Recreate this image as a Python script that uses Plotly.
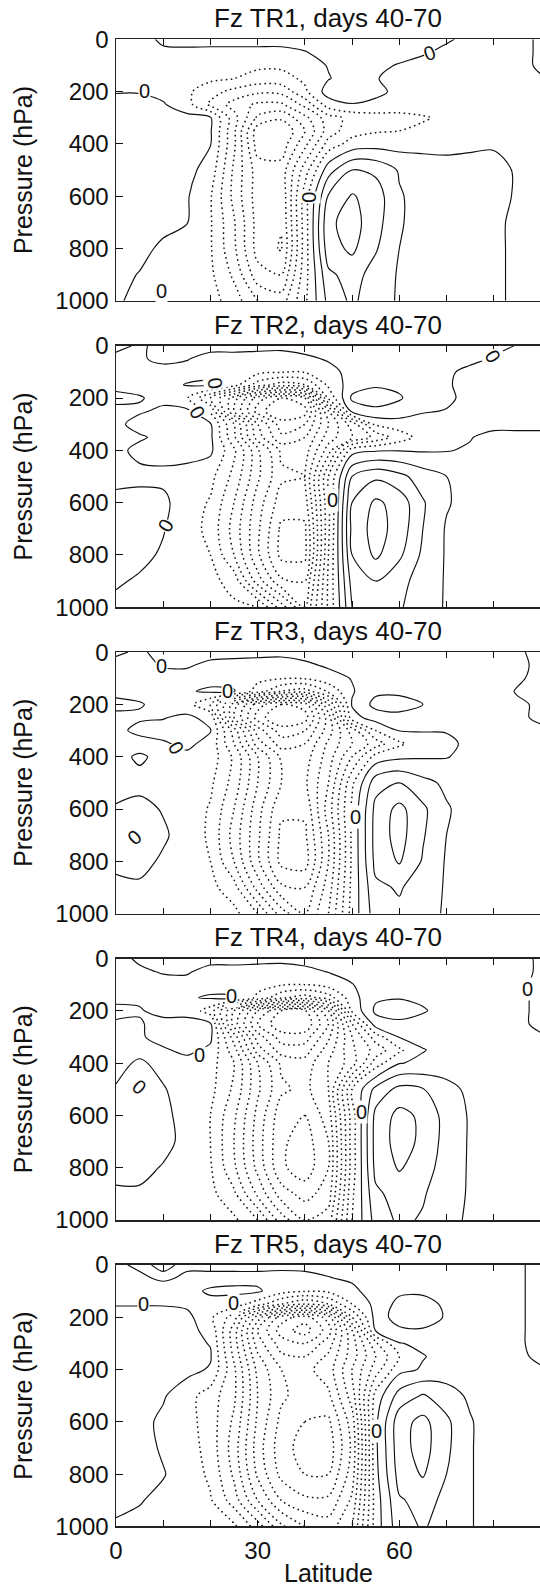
import plotly.graph_objects as go

# ---------------- data ----------------
lat = [0, 5, 10, 15, 20, 25, 30, 35, 40, 45, 50, 55, 60, 65, 70, 75, 80, 85, 90]
plev = [0, 50, 100, 150, 200, 250, 300, 350, 400, 500, 600, 700, 800, 900, 1000]

titles = ["Fz TR1, days 40-70", "Fz TR2, days 40-70", "Fz TR3, days 40-70",
          "Fz TR4, days 40-70", "Fz TR5, days 40-70"]

fz1 = [
    [-0.2, -0.2, 0.1, 0.3, 0.4, 0.4, 0.4, 0.4, 0.4, 0.5, 0.5, 0.5, 0.5, 0.4, 0.1, -0.2, -0.2, -0.2, 0.1],
    [-0.3, -0.3, -0.1, -0.2, -0.3, -0.3, -0.3, -0.3, -0.05, 0.3, 0.5, 0.5, 0.5, 0.1, -0.2, -0.3, -0.3, -0.2, 0.1],
    [-0.3, -0.3, -0.3, -0.4, -0.5, -0.6, -0.8, -0.8, -0.4, 0.05, 0.4, 0.3, -0.1, -0.3, -0.3, -0.3, -0.3, -0.2, 0.1],
    [-0.3, -0.3, -0.4, -0.5, -0.8, -1.0, -1.4, -1.4, -0.8, -0.05, 0.4, 0.05, -0.3, -0.4, -0.4, -0.3, -0.3, -0.2, -0.05],
    [-0.05, -0.05, -0.3, -0.8, -1.6, -2.3, -2.8, -2.7, -1.2, 0.45, 0.5, 0.3, -0.3, -0.4, -0.4, -0.4, -0.3, -0.2, -0.05],
    [0.3, 0.3, 0.1, -0.6, -2.2, -3.4, -4.2, -4.2, -2.7, -0.5, -0.05, -0.3, -0.5, -0.5, -0.5, -0.4, -0.3, -0.2, -0.05],
    [0.3, 0.3, 0.3, 0.3, 0.1, -2.6, -5.2, -5.8, -4.3, -2.4, -1.7, -1.4, -1.3, -1.1, -0.8, -0.5, -0.3, -0.2, -0.05],
    [0.3, 0.3, 0.3, 0.3, 0.1, -2.8, -6.6, -7.0, -5.0, -2.5, -1.4, -1.1, -1.0, -0.8, -0.6, -0.4, -0.3, -0.2, -0.1],
    [0.3, 0.3, 0.3, 0.3, 0.05, -2.8, -6.5, -6.6, -4.3, -1.6, -0.6, -0.4, -0.4, -0.3, -0.3, -0.2, -0.1, -0.1, -0.1],
    [0.3, 0.3, 0.3, 0.3, -0.4, -3.2, -5.5, -5.6, -2.5, 0.6, 2.0, 1.8, 0.9, 0.5, 0.4, 0.4, 0.3, -0.1, -0.3],
    [0.3, 0.3, 0.3, 0.1, -0.9, -3.3, -5.5, -5.8, -1.5, 2.1, 3.1, 2.5, 1.1, 0.6, 0.5, 0.4, 0.3, -0.1, -0.3],
    [0.3, 0.3, 0.3, 0.05, -0.9, -2.9, -5.4, -5.9, -1.5, 2.8, 3.4, 2.4, 1.1, 0.6, 0.5, 0.4, 0.2, -0.2, -0.3],
    [0.3, 0.3, -0.2, -0.6, -0.9, -2.8, -5.4, -6.1, -1.5, 2.6, 3.2, 2.1, 1.0, 0.6, 0.5, 0.4, 0.2, -0.2, -0.3],
    [0.3, -0.05, -0.3, -0.5, -0.8, -2.2, -4.6, -5.0, -1.4, 1.8, 2.4, 1.6, 0.9, 0.6, 0.5, 0.4, 0.2, -0.2, -0.3],
    [0.1, -0.2, -0.2, -0.3, -0.6, -1.5, -3.0, -3.5, -1.2, 1.3, 2.2, 1.4, 0.9, 0.5, 0.4, 0.3, 0.2, -0.2, -0.3],
]

fz2 = [
    [0.2, -0.1, 0.2, 0.3, 0.3, 0.3, 0.3, 0.3, 0.4, 0.5, 0.6, 0.6, 0.6, 0.6, 0.6, 0.5, 0.3, -0.05, -0.2],
    [-0.2, -0.1, 0.2, 0.05, -0.3, -0.3, -0.4, -0.5, -0.2, 0.1, 0.5, 0.6, 0.6, 0.6, 0.5, 0.3, -0.1, -0.2, -0.2],
    [-0.2, -0.2, -0.3, -0.3, -0.3, -0.5, -0.7, -0.9, -0.9, -0.3, 0.3, 0.6, 0.6, 0.5, 0.2, -0.3, -0.4, -0.4, -0.3],
    [-0.2, -0.2, -0.3, 0.05, 0.15, -0.6, -2.5, -3.5, -3.0, -0.8, 0.5, 0.9, 0.8, 0.5, 0.1, -0.3, -0.4, -0.4, -0.3],
    [0.2, 0.05, -0.2, -0.9, -3.0, -5.5, -8.5, -10.0, -9.0, -1.8, 1.2, 1.4, 1.1, 0.4, 0.2, -0.3, -0.5, -0.5, -0.4],
    [-0.2, -0.1, 0.15, 0.2, -1.2, -6.0, -9.5, -11.0, -10.5, -5.0, 0.3, 0.8, 0.6, 0.1, -0.05, -0.3, -0.5, -0.5, -0.4],
    [-0.2, 0.3, 0.3, 0.3, 0.1, -3.0, -7.0, -9.5, -9.0, -6.0, -3.5, -0.8, -0.5, -0.5, -0.4, -0.3, -0.3, -0.3, -0.3],
    [-0.2, -0.1, 0.2, 0.3, 0.2, -2.8, -6.5, -8.8, -8.0, -5.5, -4.0, -2.7, -1.5, -0.6, -0.3, -0.05, 0.3, 0.3, 0.3],
    [-0.2, 0.2, 0.3, 0.3, 0.2, -1.8, -4.8, -7.2, -7.5, -4.5, -0.4, -0.1, -0.05, -0.1, -0.05, 0.1, 0.3, 0.3, 0.3],
    [-0.2, -0.2, -0.2, -0.3, -0.7, -2.3, -4.8, -6.8, -7.0, -2.0, 2.0, 2.8, 2.3, 1.5, 1.0, 0.6, 0.5, 0.4, 0.3],
    [0.2, 0.3, 0.2, -0.5, -1.1, -3.0, -5.5, -7.5, -7.5, -2.2, 3.0, 4.2, 3.6, 2.1, 1.1, 0.6, 0.5, 0.4, 0.3],
    [0.2, 0.3, 0.05, -0.5, -1.3, -3.4, -5.8, -8.2, -8.2, -2.2, 3.3, 4.4, 3.6, 2.0, 0.9, 0.6, 0.5, 0.4, 0.3],
    [0.2, 0.2, -0.1, -0.4, -1.0, -3.0, -5.8, -8.3, -8.3, -2.0, 3.0, 4.2, 3.2, 1.8, 0.9, 0.6, 0.5, 0.4, 0.3],
    [0.1, -0.1, -0.3, -0.4, -0.7, -1.4, -4.5, -6.8, -7.0, -1.8, 2.4, 3.0, 2.3, 1.6, 0.9, 0.6, 0.5, 0.4, 0.3],
    [-0.2, -0.2, -0.3, -0.4, -0.5, -0.8, -0.9, -3.5, -6.0, -1.8, 2.0, 2.5, 2.1, 1.5, 0.9, 0.6, 0.5, 0.4, 0.3],
]

fz3 = [
    [0.1, -0.1, 0.2, 0.3, 0.3, 0.3, 0.3, 0.3, 0.4, 0.5, 0.6, 0.6, 0.6, 0.6, 0.6, 0.5, 0.4, 0.1, -0.2],
    [-0.2, -0.2, 0.05, 0.1, -0.2, -0.3, -0.4, -0.5, -0.2, 0.15, 0.5, 0.6, 0.6, 0.6, 0.6, 0.5, 0.4, 0.2, -0.2],
    [-0.2, -0.2, -0.2, -0.3, -0.3, -0.5, -0.7, -0.9, -0.9, -0.4, 0.05, 0.6, 0.6, 0.6, 0.6, 0.5, 0.4, 0.1, -0.2],
    [-0.2, -0.2, -0.2, -0.1, 0.15, 0.1, -1.5, -3.0, -3.5, -1.8, -0.1, 0.8, 0.8, 0.6, 0.6, 0.5, 0.3, -0.05, -0.2],
    [0.2, 0.05, -0.2, -0.6, -2.0, -5.5, -8.5, -10.0, -9.5, -5.0, 0.1, 1.3, 1.4, 1.0, 0.6, 0.5, 0.3, 0.1, -0.1],
    [-0.2, -0.1, -0.05, 0.2, -0.3, -6.0, -9.5, -11.0, -10.5, -6.5, -0.4, 0.5, 0.7, 0.4, 0.3, 0.3, 0.2, 0.1, -0.1],
    [-0.2, 0.2, 0.3, 0.3, 0.05, -3.5, -7.5, -9.5, -9.0, -6.5, -3.5, -1.0, 0.05, 0.05, 0.05, 0.3, 0.3, 0.2, 0.1],
    [-0.2, -0.3, -0.1, 0.2, -0.3, -3.0, -6.5, -8.5, -8.0, -5.8, -4.0, -2.5, -1.2, -0.4, -0.2, 0.2, 0.3, 0.2, 0.1],
    [-0.2, 0.1, -0.2, -0.2, -0.4, -2.2, -5.0, -7.2, -7.5, -5.5, -3.0, -0.6, -0.2, -0.1, -0.05, 0.3, 0.3, 0.2, 0.1],
    [-0.2, -0.2, -0.3, -0.4, -0.8, -2.4, -5.0, -7.0, -7.2, -5.0, -1.2, 1.6, 2.0, 1.3, 0.8, 0.6, 0.4, 0.2, 0.1],
    [0.05, 0.2, -0.05, -0.4, -1.1, -3.0, -5.6, -7.8, -7.8, -4.5, -0.8, 2.3, 3.3, 2.2, 1.1, 0.6, 0.4, 0.2, 0.1],
    [0.2, 0.3, 0.1, -0.3, -1.2, -3.4, -5.8, -8.2, -8.2, -5.0, -0.8, 2.4, 3.4, 2.1, 1.0, 0.6, 0.4, 0.2, 0.1],
    [0.1, 0.2, -0.1, -0.4, -1.0, -3.0, -5.8, -8.3, -8.5, -5.0, -0.8, 2.3, 3.1, 1.9, 0.9, 0.6, 0.4, 0.2, 0.1],
    [-0.1, -0.1, -0.3, -0.4, -0.7, -1.6, -4.4, -6.8, -7.0, -4.5, -0.7, 1.8, 2.1, 1.5, 0.9, 0.6, 0.4, 0.2, 0.1],
    [-0.2, -0.2, -0.3, -0.4, -0.5, -0.7, -2.0, -4.5, -6.0, -4.0, -0.6, 1.5, 1.8, 1.3, 0.9, 0.6, 0.4, 0.2, 0.1],
]

fz4 = [
    [-0.2, 0.1, 0.2, 0.3, 0.3, 0.3, 0.3, 0.3, 0.4, 0.5, 0.6, 0.6, 0.6, 0.6, 0.6, 0.5, 0.4, 0.2, -0.1],
    [-0.2, -0.1, 0.05, 0.1, -0.3, -0.3, -0.4, -0.5, -0.3, 0.05, 0.4, 0.6, 0.6, 0.6, 0.6, 0.5, 0.4, 0.2, -0.1],
    [-0.2, -0.2, -0.2, -0.3, -0.3, -0.5, -0.7, -0.9, -1.0, -0.6, -0.05, 0.6, 0.6, 0.6, 0.6, 0.5, 0.4, 0.2, -0.2],
    [-0.2, -0.1, -0.2, -0.1, 0.1, 0.1, -1.2, -2.8, -3.5, -2.5, -0.4, 0.85, 0.95, 0.8, 0.6, 0.5, 0.4, 0.2, -0.2],
    [0.2, 0.05, -0.2, -0.3, -1.5, -5.0, -8.0, -10.0, -10.2, -7.0, -0.8, 1.2, 1.4, 1.1, 0.6, 0.5, 0.4, 0.2, -0.2],
    [-0.1, -0.05, 0.2, 0.3, 0.1, -5.5, -9.0, -10.8, -10.8, -8.0, -3.0, 0.5, 0.8, 0.6, 0.4, 0.4, 0.3, 0.2, -0.2],
    [-0.1, -0.1, 0.3, 0.3, 0.2, -3.5, -7.5, -9.5, -9.5, -7.2, -4.0, -1.5, 0.05, 0.3, 0.4, 0.4, 0.3, 0.2, 0.1],
    [-0.2, -0.2, -0.1, 0.2, -0.2, -2.6, -6.5, -8.5, -8.5, -6.5, -4.2, -2.6, -1.2, -0.05, 0.3, 0.4, 0.3, 0.2, 0.1],
    [-0.2, 0.1, -0.2, -0.3, -0.6, -2.0, -5.0, -7.2, -7.6, -6.0, -4.5, -1.5, -0.05, 0.2, 0.5, 0.5, 0.3, 0.2, 0.1],
    [0.05, 0.2, 0.05, -0.3, -0.7, -2.2, -4.8, -6.8, -7.3, -6.0, -1.0, 1.3, 2.3, 2.05, 1.3, 0.8, 0.4, 0.2, 0.1],
    [0.2, 0.3, 0.2, -0.3, -1.0, -2.8, -5.3, -7.6, -8.0, -6.5, -1.5, 2.3, 3.3, 2.8, 1.6, 0.9, 0.4, 0.2, 0.1],
    [0.2, 0.3, 0.2, -0.2, -1.0, -3.0, -5.5, -7.8, -8.5, -7.0, -1.5, 2.4, 3.4, 2.8, 1.6, 0.9, 0.4, 0.2, 0.1],
    [0.1, 0.2, -0.05, -0.3, -0.9, -2.8, -5.3, -7.8, -8.6, -7.0, -1.5, 2.3, 3.1, 2.5, 1.5, 0.9, 0.4, 0.2, 0.1],
    [-0.05, -0.1, -0.3, -0.4, -0.7, -1.8, -4.2, -6.5, -7.4, -6.5, -1.2, 1.8, 2.4, 2.1, 1.4, 0.9, 0.4, 0.2, 0.1],
    [-0.2, -0.2, -0.3, -0.4, -0.5, -0.8, -2.0, -4.5, -6.0, -5.5, -1.0, 1.4, 2.2, 1.9, 1.2, 0.9, 0.4, 0.2, 0.1],
]

fz5 = [
    [-0.1, 0.1, -0.1, 0.1, 0.3, 0.3, 0.3, 0.3, 0.3, 0.4, 0.5, 0.5, 0.6, 0.6, 0.6, 0.5, 0.4, 0.1, -0.2],
    [-0.2, -0.1, 0.1, -0.1, -0.3, -0.3, -0.3, -0.4, -0.3, -0.05, 0.2, 0.5, 0.6, 0.6, 0.6, 0.5, 0.4, 0.1, -0.2],
    [-0.3, -0.3, -0.3, -0.2, 0.1, 0.2, 0.15, -0.6, -0.9, -0.8, -0.3, 0.6, 0.8, 0.8, 0.6, 0.4, 0.3, 0.1, -0.2],
    [-0.05, -0.05, -0.05, -0.2, -0.2, -0.5, -1.5, -3.0, -4.0, -3.0, -1.0, 0.3, 1.3, 1.4, 0.8, 0.4, 0.3, 0.1, -0.2],
    [0.3, 0.3, 0.3, 0.3, -0.8, -2.5, -6.5, -9.5, -10.5, -8.5, -3.0, 0.4, 1.5, 1.5, 0.9, 0.4, 0.3, 0.1, -0.2],
    [0.3, 0.3, 0.3, 0.3, -0.3, -3.5, -8.0, -10.5, -11.5, -9.5, -5.0, 0.1, 0.8, 0.9, 0.6, 0.4, 0.3, 0.1, -0.2],
    [0.3, 0.3, 0.3, 0.3, -0.05, -3.5, -7.5, -9.5, -10.0, -8.5, -5.5, -2.2, -0.05, 0.2, 0.3, 0.3, 0.3, 0.1, -0.2],
    [0.3, 0.3, 0.3, 0.3, 0.1, -3.2, -6.8, -8.8, -9.0, -7.8, -5.5, -3.0, -1.0, -0.05, 0.3, 0.3, 0.3, 0.1, -0.1],
    [0.3, 0.3, 0.3, 0.3, -0.1, -2.8, -6.3, -8.0, -8.3, -7.5, -5.0, -2.5, -0.3, 0.1, 0.4, 0.4, 0.3, 0.1, 0.05],
    [0.3, 0.3, 0.1, -0.6, -1.5, -2.8, -6.0, -7.8, -8.5, -8.2, -5.5, -0.6, 1.4, 2.1, 1.5, 0.8, 0.4, 0.1, 0.05],
    [0.3, 0.3, -0.2, -0.6, -1.5, -3.2, -6.2, -8.3, -9.0, -9.2, -6.5, -0.2, 2.6, 3.3, 2.2, 1.1, 0.4, 0.1, 0.05],
    [0.3, 0.3, -0.1, -0.5, -1.4, -3.5, -6.5, -8.6, -9.4, -9.6, -6.8, -0.2, 2.6, 3.4, 2.2, 1.1, 0.4, 0.1, 0.05],
    [0.3, 0.3, 0.05, -0.4, -1.2, -3.2, -6.2, -8.3, -9.0, -9.0, -6.5, -0.3, 2.4, 3.1, 2.0, 1.1, 0.4, 0.1, 0.05],
    [0.2, 0.05, -0.2, -0.4, -0.9, -2.5, -5.0, -7.0, -7.8, -7.8, -5.8, -0.5, 1.9, 2.3, 1.8, 1.1, 0.4, 0.1, 0.05],
    [-0.1, -0.2, -0.3, -0.4, -0.6, -0.8, -2.5, -4.8, -6.0, -6.5, -5.0, -0.5, 1.6, 2.1, 1.6, 1.1, 0.4, 0.1, 0.05],
]

fields = [fz1, fz2, fz3, fz4, fz5]

# "0" labels on the zero contours: (latitude, pressure, text angle)
zero_labels = [
    [(6.0, 199, 0), (9.6, 962, 0), (40.9, 603, 90), (66.4, 51, -20)],
    [(20.9, 144, 80), (17.2, 253, 60), (10.4, 688, -60), (45.9, 590, 0), (79.7, 41, 60)],
    [(9.6, 54, 0), (23.7, 150, 0), (12.8, 365, 60), (4.0, 708, -40), (50.8, 631, 0)],
    [(24.4, 144, 0), (17.7, 368, 0), (5.0, 490, 40), (51.9, 588, 0), (87.1, 118, 0)],
    [(5.8, 150, 0), (24.8, 144, 0), (55.1, 637, 0)],
]

x_tickvals = [0, 10, 20, 30, 40, 50, 60, 70, 80]
x_ticktext = ["0", "", "", "30", "", "", "60", "", ""]
y_tickvals = [0, 200, 400, 600, 800, 1000]
y_ticktext = ["0", "200", "400", "600", "800", "1000"]

# ---------------- layout constants ----------------
W, H = 540, 1586
L = 116
panel_top0 = 39.3
panel_step = 306.4
panel_h = 261.5
FONT = "Liberation Sans, Arial, Helvetica, sans-serif"
black = "#111111"

fig = go.Figure()
layout = dict(
    width=W, height=H,
    margin=dict(l=L, r=0, t=0, b=0, autoexpand=False),
    paper_bgcolor="white", plot_bgcolor="white",
    showlegend=False,
    font=dict(family=FONT, size=24, color=black),
    annotations=[],
)

for i, (title, z) in enumerate(zip(titles, fields)):
    n = i + 1
    sfx = "" if n == 1 else str(n)
    xa, ya = "x" + sfx, "y" + sfx
    top = panel_top0 + i * panel_step
    bot = top + panel_h
    dom = [1 - bot / H, 1 - top / H]

    # positive and zero contours: solid
    fig.add_trace(go.Contour(
        x=lat, y=plev, z=z, xaxis=xa, yaxis=ya,
        autocontour=False,
        contours=dict(start=0, end=8, size=1, coloring="lines"),
        colorscale=[[0, black], [1, black]], showscale=False,
        line=dict(width=1.15, smoothing=0.9), hoverinfo="skip",
    ))
    # negative contours: dotted
    fig.add_trace(go.Contour(
        x=lat, y=plev, z=z, xaxis=xa, yaxis=ya,
        autocontour=False,
        contours=dict(start=-15, end=-1, size=1, coloring="lines"),
        colorscale=[[0, black], [1, black]], showscale=False,
        line=dict(width=1.5, dash="1.6px,3.4px", smoothing=0.9), hoverinfo="skip",
    ))

    layout["xaxis" + sfx] = dict(
        domain=[0, 1], anchor=ya, range=[0, 89.8],
        tickmode="array", tickvals=x_tickvals, ticktext=x_ticktext,
        ticks="inside", ticklen=6, tickwidth=1, tickcolor=black,
        showline=True, linewidth=1.5, linecolor="#222222", mirror="ticks",
        showgrid=False, zeroline=False, showticklabels=(n == 5),
        tickfont=dict(size=24), ticklabelstandoff=2,
    )
    layout["yaxis" + sfx] = dict(
        domain=dom, anchor=xa, range=[1000, 0],
        tickmode="array", tickvals=y_tickvals, ticktext=y_ticktext,
        ticks="inside", ticklen=7, tickwidth=1, tickcolor=black,
        showline=True, linewidth=1.5, linecolor="#222222",
        showgrid=False, zeroline=False, tickfont=dict(size=24),
        ticklabelstandoff=1,
    )
    # right-hand tick marks (frame edge falls just outside the picture)
    layout[f"yaxis{n + 5}"] = dict(
        overlaying=ya, side="right", anchor=xa, range=[1000, 0],
        tickmode="array", tickvals=y_tickvals[1:-1],
        ticks="inside", ticklen=6, tickwidth=1, tickcolor=black,
        showline=False, showgrid=False, zeroline=False, showticklabels=False,
    )

    layout["annotations"].append(dict(
        text=title, xref=xa + " domain", yref=ya + " domain", x=0.5, y=1,
        yshift=21, xanchor="center", yanchor="middle", showarrow=False,
        font=dict(size=26, family=FONT, color=black),
    ))
    layout["annotations"].append(dict(
        text="Pressure (hPa)", xref="paper", yref=ya + " domain",
        x=(23 - L) / (W - L), y=0.5, textangle=-90, xanchor="center", yanchor="middle",
        showarrow=False, font=dict(size=25, family=FONT, color=black),
    ))
    for (la, pr, ang) in zero_labels[i]:
        layout["annotations"].append(dict(
            text="0", x=la, y=pr, xref=xa, yref=ya, showarrow=False,
            textangle=ang, font=dict(size=20, family=FONT, color=black),
            bgcolor="white", borderpad=0,
        ))

layout["annotations"].append(dict(
    text="Latitude", xref="x5 domain", yref="paper", x=0.5, y=(H - 1573) / H,
    xanchor="center", yanchor="middle", showarrow=False,
    font=dict(size=25, family=FONT, color=black),
))

fig.update_layout(**layout)
fig.write_html(
    "out.html",
    config={"displayModeBar": False, "staticPlot": True},
    post_script="document.body.style.margin='0px';",
)
